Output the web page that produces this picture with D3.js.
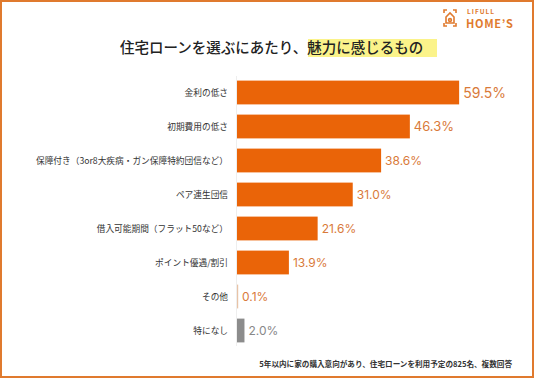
<!DOCTYPE html>
<html>
<head>
<meta charset="utf-8">
<script src="https://cdn.jsdelivr.net/npm/d3@7"></script>
<style>
body { margin: 0; background: #fff; }
text { font-family: "Noto Sans CJK JP", "Noto Sans", sans-serif; }
</style>
</head>
<body>
<script>
// data
var categories = ["金利の低さ", "初期費用の低さ", "保障付き（3or8大疾病・ガン保障特約団信など）", "ペア連生団信", "借入可能期間（フラット50など）", "ポイント優遇/割引", "その他", "特になし"];
var values = [59.5, 46.3, 38.6, 31.0, 21.6, 13.9, 0.1, 2.0];
var barColors = ["#ea6408", "#ea6408", "#ea6408", "#ea6408", "#ea6408", "#ea6408", "#e8c3a6", "#8c8c8c"];

var w = 536, h = 379;

var svg = d3.select("body").append("svg")
  .attr("width", w)
  .attr("height", h);

// frame
svg.append("rect")
  .attr("x", 1).attr("y", 1)
  .attr("width", w - 4).attr("height", h - 3)
  .attr("fill", "none")
  .attr("stroke", "#e07a2e")
  .attr("stroke-width", 2);

// title with highlight
svg.append("rect")
  .attr("x", 308).attr("y", 39)
  .attr("width", 129).attr("height", 18)
  .attr("fill", "#fbf38a");

var title = svg.append("text")
  .attr("x", 120).attr("y", 53)
  .attr("font-size", 14.5)
  .attr("font-weight", 500)
  .attr("fill", "#222");
title.append("tspan").text("住宅ローンを選ぶにあたり、");
title.append("tspan").text("魅力に感じるもの");

// logo
var logo = svg.append("g").attr("fill", "none").attr("stroke", "#e07a2e").attr("stroke-width", 1.6);
logo.append("path").attr("d", "M444,13 v-3 h3 M453,10 h3 v3 M444,23 v3 h3 M453,26 h3 v-3");
logo.append("path").attr("d", "M446,23 v-6 l4,-4 l4,4 v6 z");
logo.append("circle").attr("cx", 450).attr("cy", 20).attr("r", 1.4);
svg.append("text").attr("x", 467).attr("y", 14)
  .attr("font-size", 6.5).attr("font-weight", 700).attr("letter-spacing", 1)
  .attr("fill", "#e07a2e").text("LIFULL");
svg.append("text").attr("x", 466).attr("y", 27.5)
  .attr("font-size", 11).attr("font-weight", 700).attr("letter-spacing", 0.7)
  .attr("fill", "#e07a2e").text("HOME’S");

// scales
var x = d3.scaleLinear().domain([0, 60]).range([237, 461]);
var y = d3.scaleBand().domain(categories).range([75.5, 347.5]).paddingInner(0.3).paddingOuter(0.15);

// axis line
svg.append("line")
  .attr("x1", x(0) - 0.5).attr("x2", x(0) - 0.5)
  .attr("y1", 76).attr("y2", 346)
  .attr("stroke", "#eeeeee");

svg.selectAll("rect.bar")
  .data(values)
  .enter()
  .append("rect")
  .attr("class", "bar")
  .attr("x", x(0))
  .attr("y", function(d, i) { return y(categories[i]); })
  .attr("width", function(d) { return Math.max(x(d) - x(0), 1.2); })
  .attr("height", y.bandwidth())
  .attr("fill", function(d, i) { return barColors[i]; });

// category labels
svg.selectAll("text.cat")
  .data(categories)
  .enter()
  .append("text")
  .attr("class", "cat")
  .attr("x", 228)
  .attr("y", function(d) { return y(d) + y.bandwidth() / 2; })
  .attr("dy", "0.35em")
  .attr("text-anchor", "end")
  .attr("font-size", 8.7)
  .attr("fill", "#333")
  .text(function(d) { return d; });

// value labels
svg.selectAll("text.val")
  .data(values)
  .enter()
  .append("text")
  .attr("class", "val")
  .attr("x", function(d) { return Math.max(x(d), x(0) + 1) + 4; })
  .attr("y", function(d, i) { return y(categories[i]) + y.bandwidth() / 2; })
  .attr("dy", "0.36em")
  .attr("font-size", function(d, i) { return i == 0 ? 14 : i == 1 ? 13 : 12; })
  .attr("fill", function(d, i) { return i == 7 ? "#888" : "#d97a3a"; })
  .style("font-family", "Inter, 'Noto Sans', sans-serif")
  .text(function(d) { return d.toFixed(1) + "%"; });

// footnote
svg.append("text")
  .attr("x", 512).attr("y", 367)
  .attr("text-anchor", "end")
  .attr("font-size", 7.6)
  .attr("font-weight", 700)
  .attr("fill", "#333")
  .text("5年以内に家の購入意向があり、住宅ローンを利用予定の825名、複数回答");
</script>
</body>
</html>
